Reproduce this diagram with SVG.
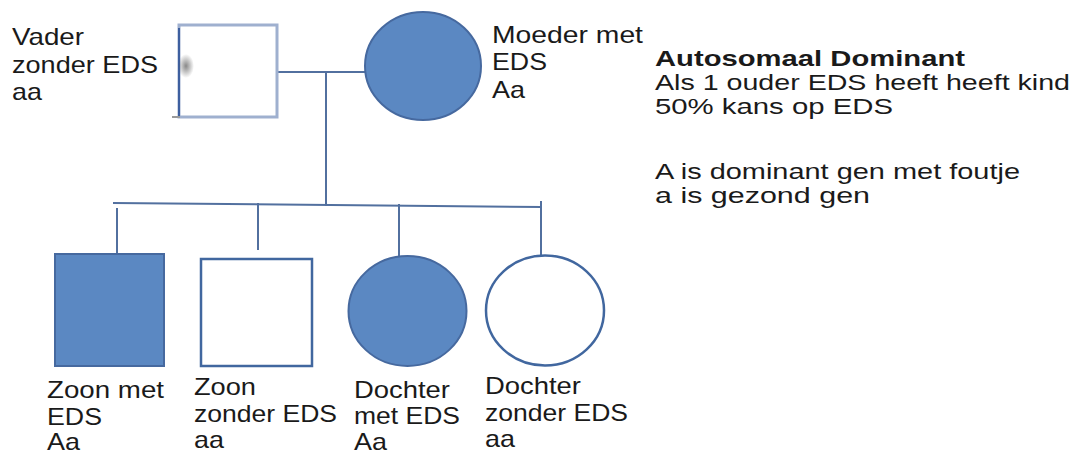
<svg xmlns="http://www.w3.org/2000/svg" width="1076" height="454" viewBox="0 0 1076 454">
<style>
text{font-family:"Liberation Sans",Arial,sans-serif;font-size:24px;fill:#1a1a1a}
.side{font-size:22.5px}
.bold{font-weight:bold}
.con{stroke:#52709f;stroke-width:2;fill:none}
.aff{fill:#5b88c2;stroke:#46699f;stroke-width:2}
.unaff{fill:#fff;stroke:#41679f;stroke-width:2.5}
</style>
<defs>
<radialGradient id="smudge" cx="0.5" cy="0.5" r="0.5">
<stop offset="0" stop-color="#555" stop-opacity="0.7"/>
<stop offset="1" stop-color="#555" stop-opacity="0"/>
</radialGradient>
</defs>
<rect width="1076" height="454" fill="#fff"/>
<g id="connectors">
<line class="con" x1="277" y1="72" x2="366" y2="72"/>
<line class="con" x1="326" y1="72" x2="326" y2="206"/>
<line class="con" x1="113" y1="203" x2="542" y2="207"/>
<line class="con" x1="117" y1="208" x2="117" y2="254"/>
<line class="con" x1="258" y1="203" x2="258" y2="250"/>
<line class="con" x1="399" y1="204" x2="399" y2="256"/>
<line class="con" x1="541" y1="201" x2="541" y2="255"/>
</g>
<g id="vader">
<rect x="179" y="25" width="98" height="92" fill="#fff" stroke="#9fb0cf" stroke-width="3"/>
<line x1="179" y1="28" x2="179" y2="117" stroke="#3d5f9f" stroke-width="2"/>
<line x1="172" y1="117" x2="180" y2="117" stroke="#9a9a9a" stroke-width="2"/>
<ellipse cx="186" cy="66" rx="8" ry="12" fill="url(#smudge)"/>
<text x="12" y="45" textLength="72" lengthAdjust="spacingAndGlyphs">Vader</text>
<text x="12" y="73" textLength="146" lengthAdjust="spacingAndGlyphs">zonder EDS</text>
<text x="12" y="100" textLength="30" lengthAdjust="spacingAndGlyphs">aa</text>
</g>
<g id="moeder">
<ellipse class="aff" cx="423" cy="66" rx="58" ry="54"/>
<text x="492" y="43" textLength="151" lengthAdjust="spacingAndGlyphs">Moeder met</text>
<text x="492" y="70" textLength="55" lengthAdjust="spacingAndGlyphs">EDS</text>
<text x="492" y="98" textLength="33" lengthAdjust="spacingAndGlyphs">Aa</text>
</g>
<g id="zoon-met">
<rect class="aff" x="55" y="254" width="109" height="112" stroke="#7f93b8"/>
<text x="47" y="398" textLength="117" lengthAdjust="spacingAndGlyphs">Zoon met</text>
<text x="47" y="425" textLength="55" lengthAdjust="spacingAndGlyphs">EDS</text>
<text x="47" y="450" textLength="33" lengthAdjust="spacingAndGlyphs">Aa</text>
</g>
<g id="zoon-zonder">
<rect class="unaff" x="201" y="259" width="111" height="107"/>
<text x="194" y="395" textLength="62" lengthAdjust="spacingAndGlyphs">Zoon</text>
<text x="194" y="422" textLength="143" lengthAdjust="spacingAndGlyphs">zonder EDS</text>
<text x="194" y="448" textLength="30" lengthAdjust="spacingAndGlyphs">aa</text>
</g>
<g id="dochter-met">
<ellipse class="aff" cx="407.5" cy="311" rx="59" ry="55"/>
<text x="354" y="398" textLength="96" lengthAdjust="spacingAndGlyphs">Dochter</text>
<text x="354" y="424" textLength="106" lengthAdjust="spacingAndGlyphs">met EDS</text>
<text x="354" y="450" textLength="33" lengthAdjust="spacingAndGlyphs">Aa</text>
</g>
<g id="dochter-zonder">
<ellipse class="unaff" cx="545" cy="310.5" rx="59" ry="55"/>
<text x="485" y="394" textLength="96" lengthAdjust="spacingAndGlyphs">Dochter</text>
<text x="485" y="421" textLength="143" lengthAdjust="spacingAndGlyphs">zonder EDS</text>
<text x="485" y="447" textLength="30" lengthAdjust="spacingAndGlyphs">aa</text>
</g>
<g id="legenda">
<text class="side bold" x="655" y="66" textLength="310" lengthAdjust="spacingAndGlyphs">Autosomaal Dominant</text>
<text class="side" x="655" y="90" textLength="415" lengthAdjust="spacingAndGlyphs">Als 1 ouder EDS heeft heeft kind</text>
<text class="side" x="655" y="114" textLength="238" lengthAdjust="spacingAndGlyphs">50% kans op EDS</text>
<text class="side" x="655" y="179" textLength="365" lengthAdjust="spacingAndGlyphs">A is dominant gen met foutje</text>
<text class="side" x="655" y="203" textLength="215" lengthAdjust="spacingAndGlyphs">a is gezond gen</text>
</g>
</svg>
